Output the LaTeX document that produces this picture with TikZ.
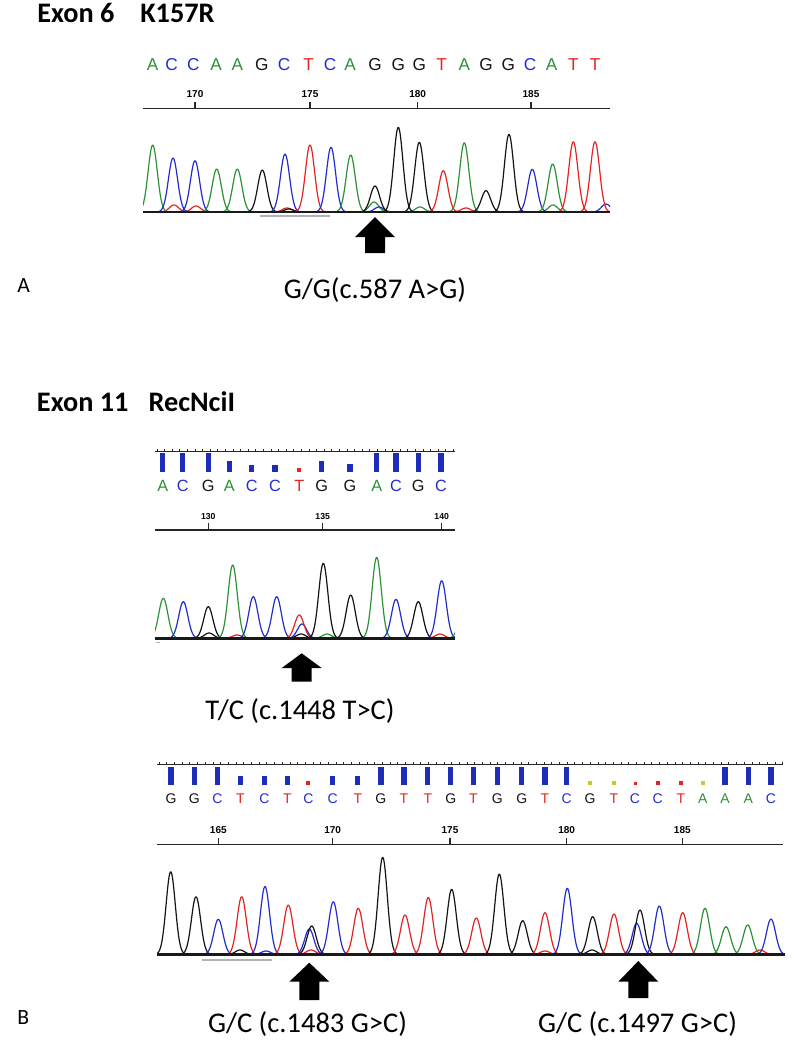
\documentclass[tikz,border=0pt]{standalone}
\usepackage{fontspec}
\setmainfont{Carlito}
\newfontfamily\seqfont{Liberation Sans}
\definecolor{sgreen}{RGB}{45,145,55}
\definecolor{sblue}{RGB}{35,45,205}
\definecolor{sred}{RGB}{228,35,35}
\definecolor{sblack}{RGB}{20,20,20}
\definecolor{syel}{RGB}{205,200,40}
\definecolor{sbar}{RGB}{30,45,185}
\tikzset{
  peak/.style={line width=0.9pt, line join=round},
  axisline/.style={line width=1pt, black!85},
  baseln/.style={line width=1.8pt, black!90},
  tickmark/.style={line width=0.8pt, black!85},
  header/.style={font=\bfseries\fontsize{21.2}{21.2}\selectfont, inner sep=0pt, anchor=base west},
  mutlabel/.style={font=\fontsize{21.4}{22}\selectfont, inner sep=0pt, anchor=base},
  panellabel/.style={font=\fontsize{16.3}{17}\selectfont, inner sep=0pt, anchor=base west},
  seqletter/.style={inner sep=0pt, anchor=base},
  ticklabel/.style={inner sep=0pt, anchor=base, font=\seqfont\bfseries\fontsize{7.5}{7.5}\selectfont},
  bigarrow/.style={fill=black}
}
\newcommand\pk[4]{%
  \pgfmathsetmacro\pkL{#2-14}\pgfmathsetmacro\pkR{#2+14}%
  \draw[peak,color=#1] plot[domain=\pkL:\pkR,samples=40,smooth] (\x,{#4-(#4-#3)*exp(-((\x-#2)^2)/42)});%
}
\newcommand\fatarrow[4]{% x, tip y, head base y, bottom y
  \fill[bigarrow] (#1,#2) -- (#1+20,#3) -- (#1+10,#3) -- (#1+10,#4) -- (#1-10,#4) -- (#1-10,#3) -- (#1-20,#3) -- cycle;%
}
\begin{document}
\begin{tikzpicture}[x=0.75pt,y=-0.75pt]
\useasboundingbox (0,0) rectangle (800,1047);
\fill[white] (0,0) rectangle (800,1047);

% ===================== Panel A =====================
\node[header] (hA1) at (37,22.7) {Exon 6};
\node[header] (hA2) at (140,22.7) {K157R};

\foreach \lx/\lc/\lt [count=\i] in {152.7/sgreen/A,171.7/sblue/C,193.3/sblue/C,216/sgreen/A,237.3/sgreen/A,261.7/sblack/G,284/sblue/C,308.7/sred/T,330/sblue/C,350/sgreen/A,375/sblack/G,398.3/sblack/G,419.3/sblack/G,441.7/sred/T,464.3/sgreen/A,486/sblack/G,508.3/sblack/G,530/sblue/C,551.7/sgreen/A,573.3/sred/T,595/sred/T}
  \node[seqletter, text=\lc, font=\seqfont\fontsize{12.9}{13}\selectfont] (sa\i) at (\lx,70.7) {\lt};

\draw[axisline] (143,108.3) -- (610,108.3);
\foreach \tx/\tl [count=\i] in {195/170,310/175,417.7/180,531/185}{
  \draw[tickmark] (\tx,108.3) -- (\tx,101.5);
  \node[ticklabel] (ta\i) at (\tx,97.3) {\tl};
}

\begin{scope}
\clip (143,100) rectangle (610,214);
\foreach \cc/\pc/\pt in {sred/174/205,sred/196/206,sred/287/208,sblack/289/209,sgreen/374/202,sblue/379/207,sgreen/420/207,sred/466/208,sgreen/553/205,sblue/606/204,
  sgreen/152.7/145,sblue/173/158,sblue/195/160.7,sgreen/216.7/169,sgreen/237.3/169,sblack/262.3/170,sblue/285/154,sred/310/145,sblue/331/147.3,sgreen/350.7/155,sblack/375/186,sblack/398.3/127.3,sblack/419.3/142.3,sred/443.3/170.7,sgreen/464.3/142.7,sblack/486/190.7,sblack/509/134.3,sblue/532.3/169.3,sgreen/552.7/164,sred/573.3/141.7,sred/595/141.7}
  {\pk{\cc}{\pc}{\pt}{212}}
\end{scope}
\draw[baseln] (143,212) -- (610,212);
\draw[line width=1pt, black!30] (260,216) -- (330,216);

\fatarrow{375}{217}{237}{253}
\node[mutlabel] (mA) at (375,298) {G/G(c.587 A>G)};
\node[panellabel] (pA) at (17,292) {A};

% ===================== Panel B =====================
\node[header] (hB1) at (36.7,411.7) {Exon 11};
\node[header] (hB2) at (148.3,411.7) {RecNciI};

% ---- B1 ----
\draw[axisline] (155,451.7) -- (455,451.7);
\foreach \t in {0,...,39}
  \draw[tickmark, line width=0.6pt] (157+7.6*\t,451.7) -- (157+7.6*\t,448.7);
\foreach \bx/\bt in {162.7/453.3,182.7/453.3,208.3/453.3,229.3/461,251.7/464.5,275/465,321.7/460.5,350/463.5,376.7/453.3,396/453.3,418.3/453.3,441/453.3}
  \fill[sbar] (\bx-2.6,\bt) rectangle (\bx+2.6,472);
\fill[sred] (297.3,467.5) rectangle (301.3,471.5);

\foreach \lx/\lc/\lt [count=\i] in {162.7/sgreen/A,182.7/sblue/C,208.3/sblack/G,229.3/sgreen/A,251.7/sblue/C,275/sblue/C,299.3/sred/T,321.7/sblack/G,350/sblack/G,376.7/sgreen/A,396/sblue/C,418.3/sblack/G,441/sblue/C}
  \node[seqletter, text=\lc, font=\seqfont\fontsize{12.2}{12.5}\selectfont] (sb\i) at (\lx,491.7) {\lt};

\draw[axisline] (155,530) -- (455,530);
\foreach \tx/\tl [count=\i] in {208.3/130,322.7/135,441.7/140}{
  \draw[tickmark] (\tx,530) -- (\tx,522.5);
  \node[ticklabel, font=\seqfont\bfseries\fontsize{6.5}{6.5}\selectfont] (tb\i) at (\tx,519) {\tl};
}

\begin{scope}
\clip (155,540) rectangle (455,640);
\foreach \cc/\pc/\pt in {sblack/209/633,sred/237/635,sblack/301/634,sgreen/327/634,sred/440/634,sblue/302/624,
  sgreen/163.3/598.3,sblue/183.3/601.7,sblack/208.3/606.7,sgreen/232.7/565,sblue/253.3/596.7,sblue/276.7/596.7,sred/299.3/615,sblack/323.3/563.3,sblack/350.7/595,sgreen/376.7/557.3,sblue/396/599.3,sblack/418.3/601.7,sblue/441.7/580.7,sgreen/462/622}
  {\pk{\cc}{\pc}{\pt}{638.3}}
\end{scope}
\draw[baseln] (155,638.3) -- (455,638.3);
\draw[line width=0.8pt, black!30] (156,642.5) -- (160,642.5);

\fatarrow{301.7}{653.3}{668}{681.7}
\node[mutlabel] (mB1) at (300,719) {T/C (c.1448 T>C)};

% ---- B2 ----
\draw[axisline] (157,764.5) -- (783,764.5);
\foreach \t in {0,...,81}
  \draw[tickmark, line width=0.6pt] (159+7.7*\t,764.5) -- (159+7.7*\t,761.5);
% bars
\foreach \bx/\bt in {171/766.5,194.4/766.5,217.5/766.5,240.5/775.5,264.4/775.5,287.4/775.5,332.7/775.5,357.8/775.5,380.9/766.5,404/766.5,427.8/766.5,450.8/766.5,473.3/766.5,497.3/766.5,521.7/766.5,545/766.5,566.7/766.5,725/766.5,748.3/766.5,771/766.5}
  \fill[sbar] (\bx-2.6,\bt) rectangle (\bx+2.6,785);
\foreach \dx/\dc in {308.4/sred,590/syel,614/syel,657.7/sred,681/sred,702.7/syel}
  \fill[\dc] (\dx-2,780.5) rectangle (\dx+2,784.5);
\fill[sred] (633.5,782) rectangle (636.5,784.5);

\foreach \lx/\lc/\lt [count=\i] in {171/sblack/G,194.4/sblack/G,217.5/sblue/C,240.5/sred/T,264.4/sblue/C,287.4/sred/T,308.4/sblue/C,332.7/sblue/C,357.8/sred/T,380.9/sblack/G,404/sred/T,427.8/sred/T,450.8/sblack/G,473.3/sred/T,497.3/sblack/G,521.7/sblack/G,545/sred/T,566.7/sblue/C,590/sblack/G,614/sred/T,635/sblue/C,657.7/sblue/C,681/sred/T,702.7/sgreen/A,725/sgreen/A,748.3/sgreen/A,771/sblue/C}
  \node[seqletter, text=\lc, font=\seqfont\fontsize{10.5}{11}\selectfont] (sc\i) at (\lx,803.3) {\lt};

\draw[axisline] (157,844.5) -- (783,844.5);
\foreach \tx/\tl [count=\i] in {218.3/165,332.7/170,450/175,566.7/180,682.3/185}{
  \draw[tickmark] (\tx,844.5) -- (\tx,837.5);
  \node[ticklabel] (tc\i) at (\tx,833.3) {\tl};
}

\begin{scope}
\clip (157,850) rectangle (785,956);
\foreach \cc/\pc/\pt in {sblack/240/950,sblue/266/951,sred/311/950,sred/545/951,sblack/592/950,sred/760/950,
  sblack/170.7/871.7,sblack/196/896.7,sblue/218.3/919.3,sred/241.7/896.7,sblue/265/886.5,sred/288.3/905,sblue/309.3/929,sblack/311.7/926,sblue/333.3/901.7,sred/358.3/908.3,sblack/382.7/857.3,sred/405/915,sred/428.3/897.5,sblack/451.7/889.3,sred/476.3/918,sblack/499.3/874,sblack/522.7/920.7,sred/545/912.7,sblue/567.3/888.3,sblack/592.7/916.7,sred/614/914,sblue/636.7/923.3,sblack/640/910,sblue/659.3/906,sred/682.7/912.7,sgreen/705/908.3,sgreen/726/926.7,sgreen/747.7/925,sblue/771/919}
  {\pk{\cc}{\pc}{\pt}{954.5}}
\end{scope}
\draw[baseln] (157,954.5) -- (785,954.5);
\draw[line width=1pt, black!30] (201.7,960) -- (271.7,960);

\fatarrow{309.3}{962.7}{981.7}{1000}
\fatarrow{638.3}{961}{981.7}{998}
\node[mutlabel] (mB2) at (307.5,1032) {G/C (c.1483 G>C)};
\node[mutlabel] (mB3) at (637.5,1032) {G/C (c.1497 G>C)};
\node[panellabel] (pB) at (17,1024) {B};
\end{tikzpicture}
\end{document}
